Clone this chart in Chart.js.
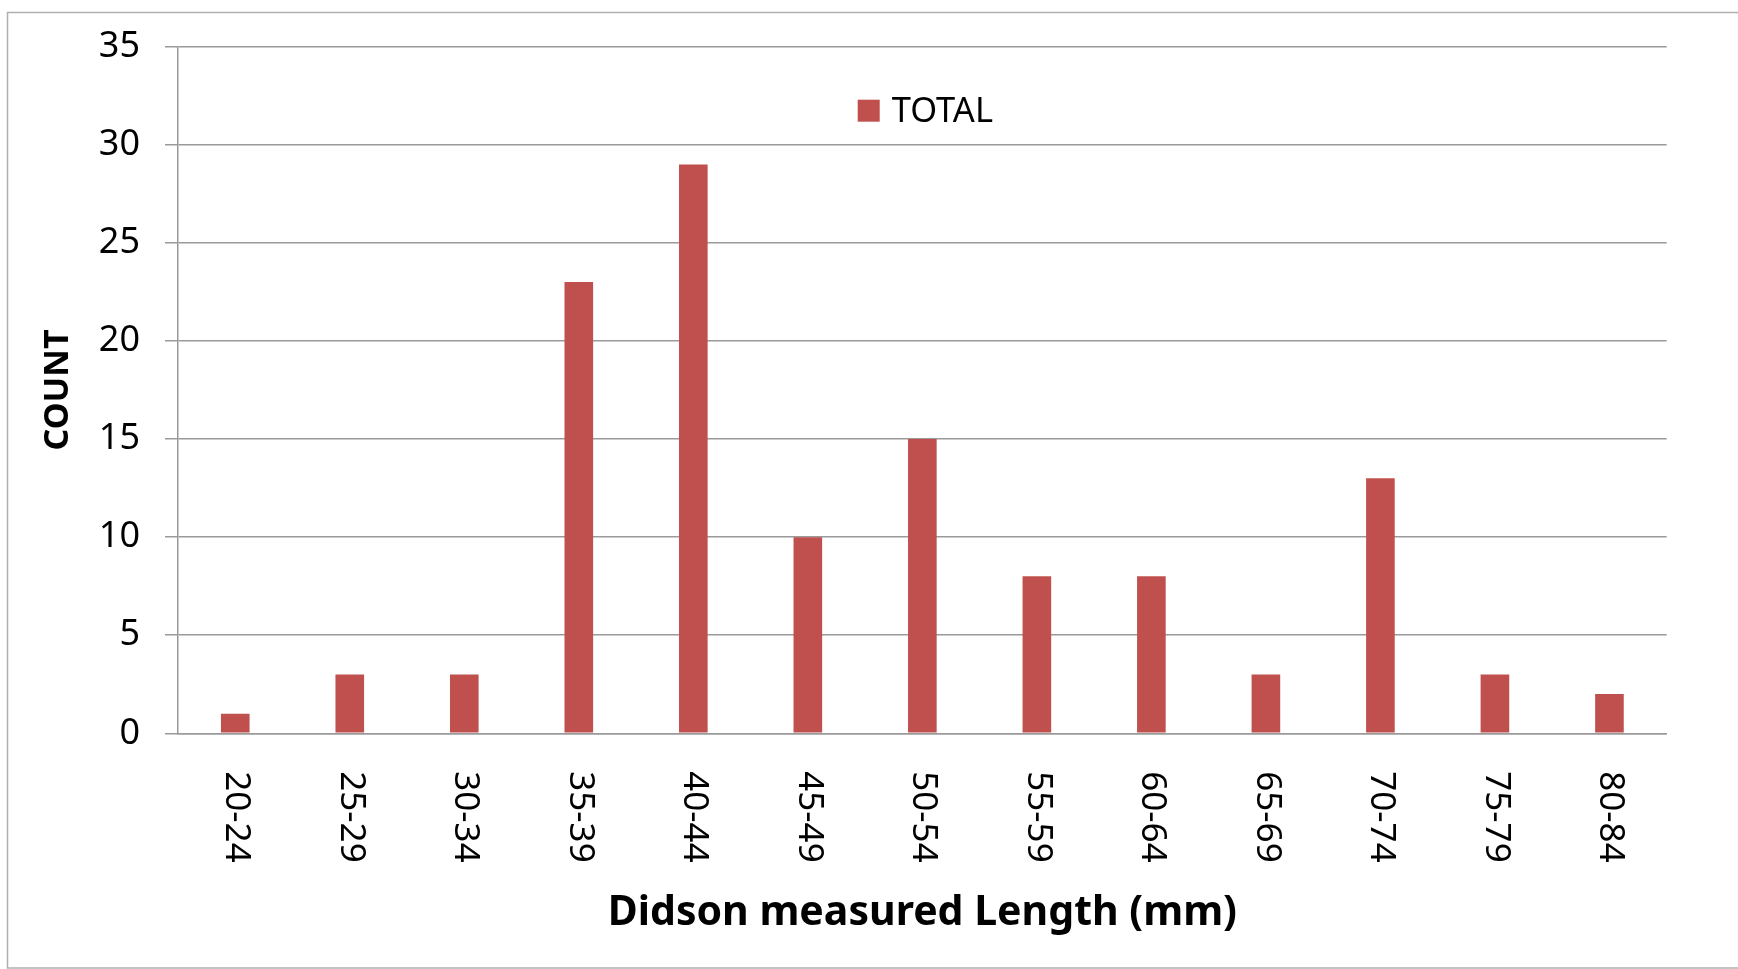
<!DOCTYPE html>
<html>
<head>
<meta charset="utf-8">
<script src="https://cdn.jsdelivr.net/npm/chart.js@4.4.1/dist/chart.umd.min.js"></script>
<style>
  html, body { margin: 0; padding: 0; background: #ffffff; }
  #wrap { position: relative; width: 1738px; height: 969px; }
</style>
</head>
<body>
<div id="wrap"><canvas id="c" width="1738" height="969"></canvas></div>
<script>
const categories = ["20-24","25-29","30-34","35-39","40-44","45-49","50-54","55-59","60-64","65-69","70-74","75-79","80-84"];
const totalCounts = [1, 3, 3, 23, 29, 10, 15, 8, 8, 3, 13, 3, 2];
const seriesName = "TOTAL";
const yMin = 0;
const yMax = 35;
const yStep = 5;
const xTitle = "Didson measured Length (mm)";
const yTitle = "COUNT";

const FONT = "'Noto Sans', 'Open Sans', sans-serif";
const BAR_COLOR = "#C0504D";
const GRID_COLOR = "#9a9a9a";

const frame = {
  id: 'frame',
  beforeDraw(chart) {
    const ctx = chart.ctx;
    ctx.save();
    ctx.fillStyle = '#ffffff';
    ctx.fillRect(0, 0, chart.width, chart.height);
    ctx.strokeStyle = '#b0b0b0';
    ctx.lineWidth = 1.5;
    ctx.beginPath();
    ctx.moveTo(chart.width, 12.5);
    ctx.lineTo(7.5, 12.5);
    ctx.lineTo(7.5, 968);
    ctx.lineTo(chart.width, 968);
    ctx.stroke();
    ctx.restore();
  }
};

const rotatedXLabels = {
  id: 'rotatedXLabels',
  afterDraw(chart) {
    const ctx = chart.ctx;
    const xs = chart.scales.x;
    ctx.save();
    ctx.fillStyle = '#000000';
    ctx.font = `35px ${FONT}`;
    ctx.textAlign = 'left';
    ctx.textBaseline = 'middle';
    categories.forEach((lab, i) => {
      const px = xs.getPixelForTick(i);
      ctx.save();
      ctx.translate(px + 1, chart.chartArea.bottom + 38);
      ctx.rotate(Math.PI / 2);
      ctx.fillText(lab, 0, 0);
      ctx.restore();
    });
    ctx.restore();
  }
};

const innerLegend = {
  id: 'innerLegend',
  afterDraw(chart) {
    const ctx = chart.ctx;
    const ca = chart.chartArea;
    ctx.save();
    ctx.font = `34.5px ${FONT}`;
    const tw = ctx.measureText(seriesName).width;
    const box = 22, gap = 12;
    const total = box + gap + tw;
    const x0 = (ca.left + ca.right) / 2 - total / 2 + 3;
    const cy = ca.top + 64;
    ctx.fillStyle = chart.data.datasets[0].backgroundColor;
    ctx.fillRect(x0, cy - box / 2, box, box);
    ctx.fillStyle = '#000000';
    ctx.textAlign = 'left';
    ctx.textBaseline = 'middle';
    ctx.fillText(seriesName, x0 + box + gap, cy + 1);
    ctx.restore();
  }
};

new Chart(document.getElementById('c'), {
  type: 'bar',
  data: {
    labels: categories,
    datasets: [{
      label: seriesName,
      data: totalCounts,
      backgroundColor: BAR_COLOR,
      borderWidth: 0,
      categoryPercentage: 1.0,
      barPercentage: 0.25
    }]
  },
  options: {
    responsive: false,
    animation: false,
    events: [],
    layout: { padding: { left: 0, top: 46.7, right: 71.3, bottom: 0 } },
    plugins: {
      legend: { display: false },
      title: { display: false },
      tooltip: { enabled: false }
    },
    scales: {
      x: {
        grid: { display: false, drawTicks: false },
        border: { display: true, color: GRID_COLOR, width: 1.5 },
        ticks: { display: false },
        title: {
          display: true,
          text: xTitle,
          color: '#000000',
          font: { family: FONT, size: 41, weight: 'bold', lineHeight: 1.2 },
          padding: { top: 0, bottom: 31 }
        },
        afterFit(scale) { scale.height = 235.7; }
      },
      y: {
        min: yMin,
        max: yMax,
        ticks: {
          stepSize: yStep,
          color: '#000000',
          font: { family: FONT, size: 36 },
          padding: 25
        },
        grid: { color: GRID_COLOR, lineWidth: 1.5, tickLength: 13, drawTicks: true },
        border: { display: true, color: GRID_COLOR, width: 1.5 },
        title: {
          display: true,
          text: yTitle,
          color: '#000000',
          font: { family: FONT, size: 34, weight: 'bold', lineHeight: 1.2 },
          padding: { top: 38, bottom: 0 }
        },
        afterFit(scale) { scale.width = 178; }
      }
    }
  },
  plugins: [frame, rotatedXLabels, innerLegend]
});
</script>
</body>
</html>
